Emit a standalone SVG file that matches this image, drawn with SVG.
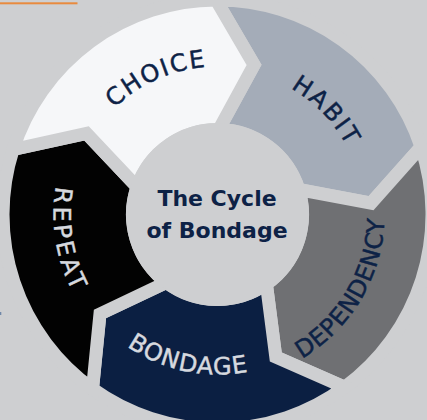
<svg xmlns="http://www.w3.org/2000/svg" width="427" height="420" viewBox="0 0 427 420">
<style>
.seg{stroke:#cecfd1;stroke-width:13;stroke-linejoin:miter}
.lbl{font-family:"DejaVu Sans","Liberation Sans",sans-serif;font-size:24px;text-anchor:middle;stroke-width:0.45}
.dark{fill:#0d2246;stroke:#0d2246}
.light{fill:#d6d9df;stroke:#d6d9df}
.ctr{font-family:"DejaVu Sans","Liberation Sans",sans-serif;font-size:22px;font-weight:bold;fill:#0d2246;text-anchor:middle}
</style>
<defs>
<path id="pChoice" d="M70.21,200.06 A148,148 0 0 1 303.65,94.01"/>
<path id="pHabit" d="M182.18,72.84 A146,146 0 0 1 357.84,254.74"/>
<path id="pDep" d="M215.46,381.49 A167,167 0 0 0 363.14,132.77"/>
<path id="pBond" d="M65.5,264.47 A160,160 0 0 0 336.78,321.14"/>
<path id="pRep" d="M114.29,87.05 A164,164 0 0 0 158.73,367.61"/>
</defs>
<rect width="427" height="420" fill="#cecfd1"/>
<rect x="0" y="2.3" width="77.5" height="2" fill="#e98a3e"/>
<rect x="0" y="312" width="1.3" height="3" fill="#7088a8"/>
<g id="habit">
<path class="seg" fill="#a4acb8" d="M216.12,0 A214.5,214.5 0 0 1 421.07,146.9 L371.08,203.09 L298.74,189.51 A85,85 0 0 0 218.84,129.51 L254.1,64.91 Z"/>
<text class="lbl dark"><textPath href="#pHabit" startOffset="50%" textLength="81" lengthAdjust="spacing">HABIT</textPath></text>
</g>
<g id="dependency">
<path class="seg" fill="#6f7073" d="M421.07,146.9 A214.5,214.5 0 0 1 344.69,387.22 L275.81,357.03 L266.38,284.04 A85,85 0 0 0 298.74,189.51 L371.08,203.09 Z"/>
<text class="lbl dark"><textPath href="#pDep" startOffset="50%" textLength="169" lengthAdjust="spacing">DEPENDENCY</textPath></text>
</g>
<g id="bondage">
<path class="seg" fill="#0b1f42" d="M344.69,387.22 A214.5,214.5 0 0 1 92.52,388.83 L99.96,314 L166.46,282.47 A85,85 0 0 0 266.38,284.04 L275.81,357.03 Z"/>
<text class="lbl light"><textPath href="#pBond" startOffset="50%" textLength="127" lengthAdjust="spacing">BONDAGE</textPath></text>
</g>
<g id="repeat">
<path class="seg" fill="#020202" d="M92.52,388.83 A214.5,214.5 0 0 1 13.08,149.52 L86.55,133.46 L137.08,186.97 A85,85 0 0 0 166.46,282.47 L99.96,314 Z"/>
<text class="lbl light"><textPath href="#pRep" startOffset="50%" textLength="108" lengthAdjust="spacing">REPEAT</textPath></text>
</g>
<g id="choice">
<path class="seg" fill="#f6f7f9" d="M13.08,149.52 A214.5,214.5 0 0 1 216.12,0 L254.1,64.91 L218.84,129.51 A85,85 0 0 0 137.08,186.97 L86.55,133.46 Z"/>
<text class="lbl dark"><textPath href="#pChoice" startOffset="50%" textLength="102" lengthAdjust="spacing">CHOICE</textPath></text>
</g>
<g id="center">
<circle cx="217.5" cy="214.5" r="91.5" fill="#cecfd1"/>
<text class="ctr" x="217" y="206">The Cycle</text>
<text class="ctr" x="217" y="238">of Bondage</text>
</g>
</svg>
